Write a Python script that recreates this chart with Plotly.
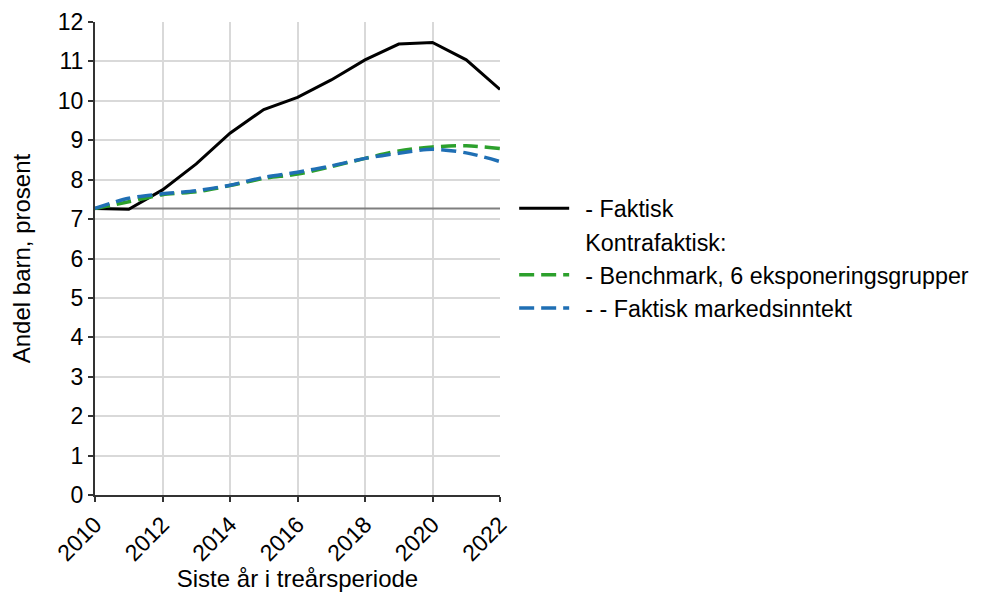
import plotly.graph_objects as go

years = list(range(2010, 2023))
faktisk = [7.27, 7.25, 7.74, 8.40, 9.18, 9.78, 10.09, 10.53, 11.04, 11.44, 11.48, 11.04, 10.29]
benchmark = [7.27, 7.44, 7.62, 7.69, 7.85, 8.03, 8.14, 8.33, 8.54, 8.73, 8.83, 8.86, 8.79]
markedsinntekt = [7.27, 7.53, 7.64, 7.72, 7.86, 8.06, 8.19, 8.35, 8.54, 8.67, 8.77, 8.68, 8.46]
baseline = [7.27] * len(years)

font_family = "Liberation Sans, Arial, sans-serif"
pad = "\u00a0\u2009"

fig = go.Figure()
fig.add_trace(go.Scatter(x=years, y=baseline, mode="lines",
                         line=dict(color="#7f7f7f", width=2), showlegend=False, hoverinfo="skip"))
fig.add_trace(go.Scatter(x=years, y=faktisk, mode="lines", name=pad + "- Faktisk",
                         line=dict(color="#000000", width=3)))
fig.add_trace(go.Scatter(x=[None], y=[None], mode="lines", name=pad + "Kontrafaktisk:",
                         line=dict(color="rgba(0,0,0,0)", width=0)))
fig.add_trace(go.Scatter(x=years, y=benchmark, mode="lines", name=pad + "- Benchmark, 6 eksponeringsgrupper",
                         line=dict(color="#2ca02c", width=3.5, dash="15px,7px", shape="spline", smoothing=0.8)))
fig.add_trace(go.Scatter(x=years, y=markedsinntekt, mode="lines", name=pad + "- - Faktisk markedsinntekt",
                         line=dict(color="#1f6fb4", width=3.5, dash="15px,7px", shape="spline", smoothing=0.8)))

fig.update_layout(
    width=975, height=584,
    margin=dict(l=87, r=483, t=14, b=97, autoexpand=False),
    plot_bgcolor="white", paper_bgcolor="white",
    font=dict(family=font_family, size=24, color="#000000"),
    legend=dict(x=1.035, xanchor="left", y=0.5, yanchor="middle",
                font=dict(size=23.3), itemwidth=50, bgcolor="rgba(0,0,0,0)"),
    xaxis=dict(range=[2010, 2022], tickmode="array", tickvals=list(range(2010, 2023, 2)),
               tickangle=-45, showgrid=True, gridcolor="#d9d9d9", gridwidth=2,
               showline=True, linecolor="#333333", linewidth=2, ticks="outside",
               ticklen=5, tickcolor="#333333", tickwidth=2, zeroline=False, automargin=False,
               title=dict(text="Siste år i treårsperiode", font=dict(size=24), standoff=21),
               tickfont=dict(size=23)),
    yaxis=dict(range=[0, 12], tickmode="array", tickvals=list(range(0, 13)),
               showgrid=True, gridcolor="#d9d9d9", gridwidth=2,
               showline=True, linecolor="#333333", linewidth=2, ticks="outside",
               ticklen=5, tickcolor="#333333", tickwidth=2, zeroline=False, automargin=False,
               title=dict(text="Andel barn, prosent", font=dict(size=24), standoff=20),
               tickfont=dict(size=23)),
)

fig.write_html("out.html")
